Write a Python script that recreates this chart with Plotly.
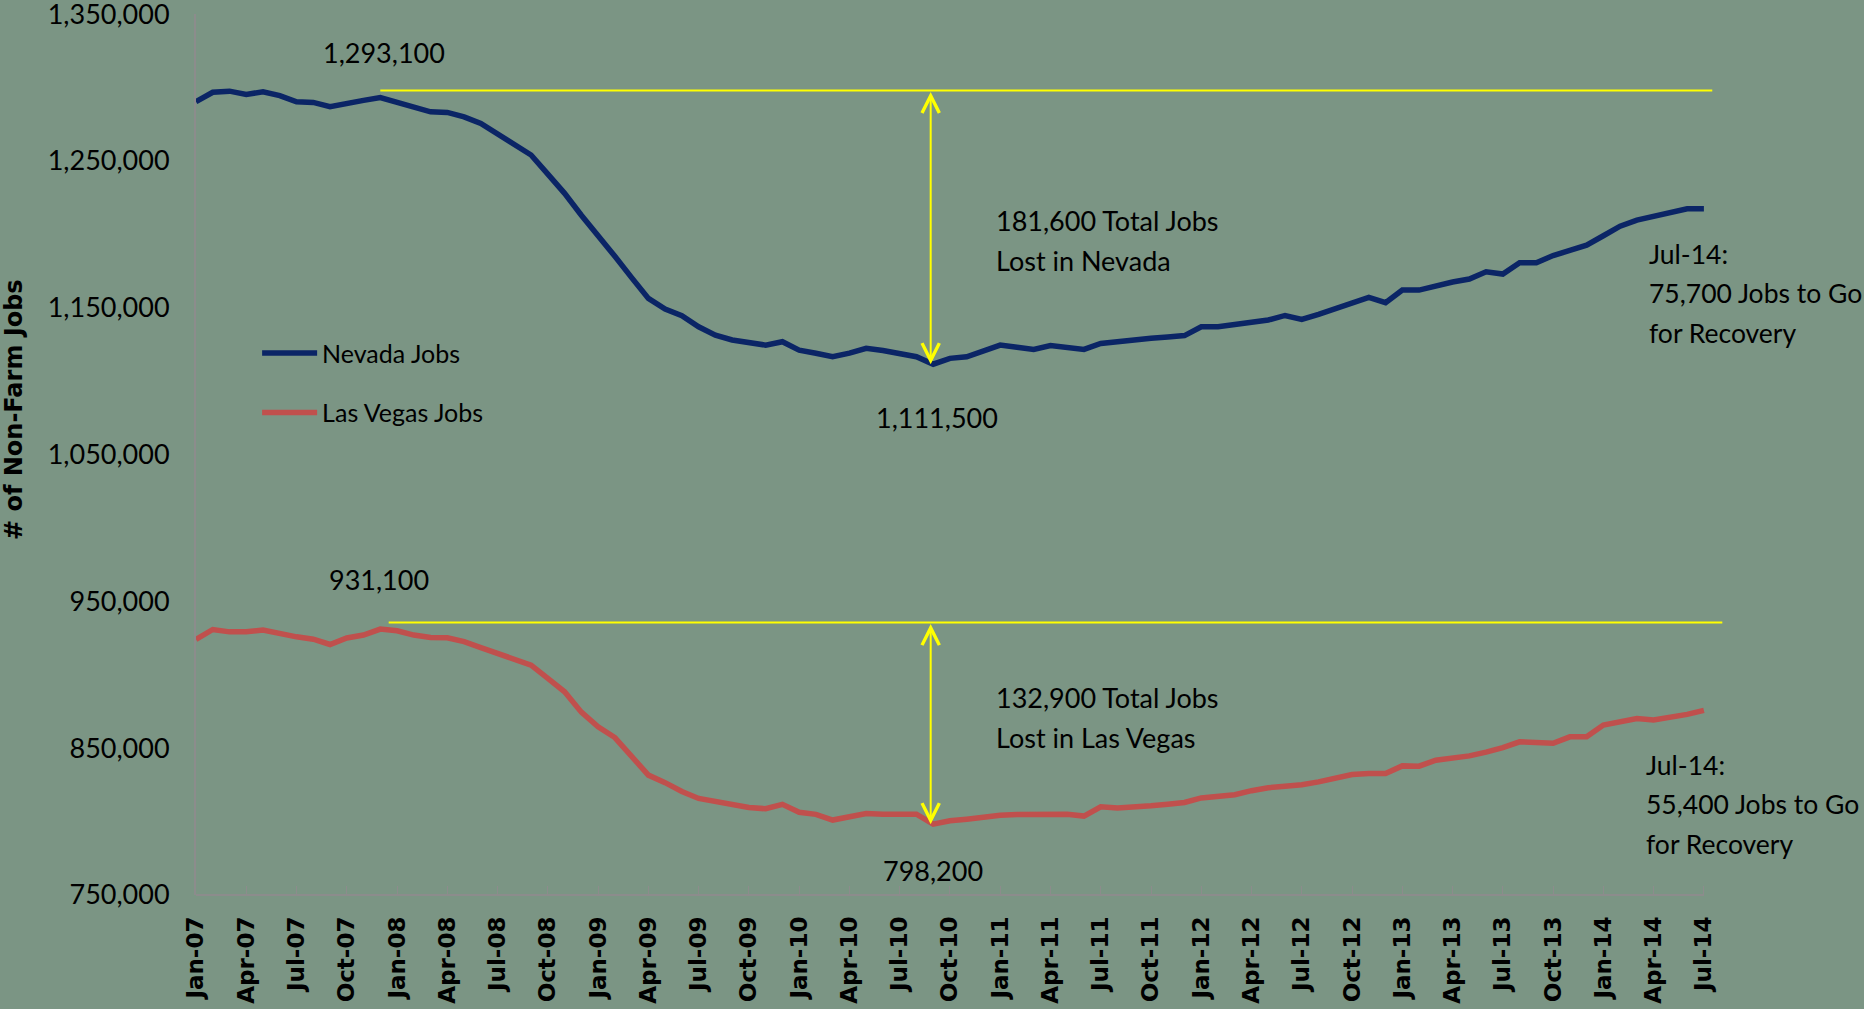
import plotly.graph_objects as go

# ---------------- data ----------------
TICK_LABELS = ["Jan-07", "Apr-07", "Jul-07", "Oct-07", "Jan-08", "Apr-08", "Jul-08", "Oct-08",
               "Jan-09", "Apr-09", "Jul-09", "Oct-09", "Jan-10", "Apr-10", "Jul-10", "Oct-10",
               "Jan-11", "Apr-11", "Jul-11", "Oct-11", "Jan-12", "Apr-12", "Jul-12", "Oct-12",
               "Jan-13", "Apr-13", "Jul-13", "Oct-13", "Jan-14", "Apr-14", "Jul-14"]

# monthly, Jan-07 .. Jul-14 (91 months)
NEVADA_JOBS = [
    1290300, 1296700, 1297500, 1295300, 1297100, 1294500, 1290300, 1289800, 1286900, 1289300,
    1291200, 1293100, 1290000, 1286600, 1283400, 1283000, 1280000, 1275500, 1268000, 1260800,
    1254000, 1241000, 1227900, 1213000, 1199500, 1185000, 1170500, 1156300, 1149000, 1144500,
    1137000, 1131300, 1128000, 1126000, 1124500, 1126800, 1121100, 1119000, 1116600, 1119000,
    1122300, 1120800, 1119000, 1116600, 1111500, 1115500, 1116600, 1120500, 1124500, 1123000,
    1121600, 1124200, 1123000, 1121600, 1125600, 1127000, 1128300, 1129200, 1130000, 1131000,
    1137000, 1137000, 1138500, 1140300, 1141600, 1144700, 1142000, 1145500, 1149500, 1153000,
    1157000, 1153400, 1162000, 1162000, 1165000, 1167500, 1169500, 1174500, 1172900, 1180600,
    1180600, 1185500, 1189000, 1192600, 1199000, 1205500, 1209700, 1212500, 1215300, 1217400,
    1217400]

LAS_VEGAS_JOBS = [
    924000, 930800, 929200, 929200, 930400, 927700, 925800, 924200, 920600, 925000,
    927000, 931100, 929900, 927000, 925400, 925100, 922500, 918500, 914500, 910500,
    906500, 897500, 888400, 874500, 864500, 857200, 845000, 831600, 826500, 820500,
    815700, 813400, 811300, 809600, 808700, 811700, 806300, 804900, 801000, 803000,
    805500, 805000, 805000, 805000, 798200, 800500, 801600, 803000, 804300, 804700,
    805000, 805000, 805000, 803700, 810000, 809300, 809800, 810700, 811800, 813000,
    816100, 817000, 818300, 821000, 823000, 824000, 825000, 827000, 829500, 832000,
    832700, 832700, 837900, 837700, 841800, 843200, 844700, 847300, 850300, 854300,
    853500, 853300, 857700, 857700, 865700, 868000, 870200, 869100, 870700, 873000,
    875700]

SERIES_NAMES = ["Nevada Jobs", "Las Vegas Jobs"]
Y_TICKS = [750000, 850000, 950000, 1050000, 1150000, 1250000, 1350000]

NV_PEAK_IDX, NV_TROUGH_IDX = 11, 44
LV_PEAK_IDX, LV_TROUGH_IDX = 11, 44

# ---------------- style ----------------
BG = "#7b9584"
NV_COLOR = "#0b2566"
LV_COLOR = "#c0504d"
YELLOW = "#ffff00"
AXIS_GRAY = "#8c8c8c"
TXT_FONT = "Lato, 'Liberation Sans', sans-serif"
BOLD_FONT = "'DejaVu Sans', Verdana, sans-serif"

months = list(range(len(NEVADA_JOBS)))
tick_idx = list(range(0, len(NEVADA_JOBS), 3))

fig = go.Figure()
fig.add_trace(go.Scatter(x=months, y=NEVADA_JOBS, mode="lines", name=SERIES_NAMES[0],
                         legendgroup="a", line=dict(color=NV_COLOR, width=5.5)))
fig.add_trace(go.Scatter(x=months, y=LAS_VEGAS_JOBS, mode="lines", name=SERIES_NAMES[1],
                         legendgroup="b", line=dict(color=LV_COLOR, width=5.5)))

nv_peak = NEVADA_JOBS[NV_PEAK_IDX]
nv_trough = NEVADA_JOBS[NV_TROUGH_IDX]
lv_peak = LAS_VEGAS_JOBS[LV_PEAK_IDX]
lv_trough = LAS_VEGAS_JOBS[LV_TROUGH_IDX]
nv_last = NEVADA_JOBS[-1]
lv_last = LAS_VEGAS_JOBS[-1]

NV_REF = nv_peak + 4900
LV_REF = lv_peak + 4400

shapes = [
    dict(type="line", xref="x", yref="y", x0=NV_PEAK_IDX, x1=90.5, y0=NV_REF, y1=NV_REF,
         line=dict(color=YELLOW, width=2)),
    dict(type="line", xref="x", yref="y", x0=LV_PEAK_IDX + 0.5, x1=91.1, y0=LV_REF, y1=LV_REF,
         line=dict(color=YELLOW, width=2)),
    # category axis baseline (ends at last month)
    dict(type="line", xref="x", yref="paper", x0=0, x1=len(months) - 1, y0=0, y1=0,
         line=dict(color=AXIS_GRAY, width=2)),
]

ann = []
# double-headed arrows
for top, bottom in [(NV_REF, nv_trough), (LV_REF, lv_trough)]:
    ann.append(dict(x=NV_TROUGH_IDX - 0.15, y=bottom, ax=NV_TROUGH_IDX - 0.15, ay=top,
                    xref="x", yref="y", axref="x", ayref="y", text="", showarrow=True,
                    arrowhead=5, startarrowhead=5, arrowside="end+start",
                    arrowsize=1.7, startarrowsize=1.7, arrowwidth=2, arrowcolor=YELLOW,
                    standoff=0, startstandoff=0))


def text_block(lines, x, y, xanchor="left", size=27, spacing=39.5):
    n = len(lines)
    for i, t in enumerate(lines):
        ann.append(dict(x=x, y=y, xref="x", yref="y", text=t, showarrow=False,
                        xanchor=xanchor, yanchor="middle",
                        yshift=((n - 1) / 2 - i) * spacing,
                        font=dict(family=TXT_FONT, size=size, color="#000000")))


text_block([f"{nv_peak:,}"], 11.2, 1324000, xanchor="center")
text_block([f"{nv_peak - nv_trough:,} Total Jobs", "Lost in Nevada"], 47.6, 1195700)
text_block([f"{nv_trough:,}"], 44.2, 1075500, xanchor="center")
text_block(["Jul-14:", f"{nv_peak - nv_last:,} Jobs to Go", "for Recovery"], 86.6, 1159900, size=26.5)
text_block([f"{lv_peak:,}"], 10.9, 965100, xanchor="center")
text_block([f"{lv_peak - lv_trough:,} Total Jobs", "Lost in Las Vegas"], 47.6, 870800)
text_block([f"{lv_trough:,}"], 44.0, 766900, xanchor="center")
text_block(["Jul-14:", f"{lv_peak - lv_last:,} Jobs to Go", "for Recovery"], 86.4, 811800, size=26.5)

# y-axis title
ann.append(dict(x=0, y=0.5505, xref="paper", yref="paper", xshift=-182, text="# of Non-Farm Jobs",
                textangle=-90, showarrow=False, xanchor="center", yanchor="middle",
                font=dict(family=BOLD_FONT, size=24, color="#000000", weight="bold")))

fig.update_layout(
    width=1864, height=1009,
    margin=dict(l=196, r=140, t=14, b=114, pad=0, autoexpand=False),
    paper_bgcolor=BG, plot_bgcolor=BG,
    showlegend=True,
    legend=dict(x=0.040, y=0.641, xanchor="left", yanchor="top", bgcolor="rgba(0,0,0,0)",
                traceorder="grouped", tracegroupgap=24, itemwidth=55,
                font=dict(family=TXT_FONT, size=25, color="#000000")),
    shapes=shapes, annotations=ann,
    xaxis=dict(range=[0, 91.2], showgrid=False, zeroline=False, showline=False,
               automargin=False,
               tickmode="array", tickvals=tick_idx, ticktext=TICK_LABELS,
               ticks="inside", ticklen=9, tickwidth=1, tickcolor=AXIS_GRAY,
               tickangle=-90, ticklabelstandoff=16, ticklabeloverflow="allow",
               tickfont=dict(family=BOLD_FONT, size=23, color="#000000", weight="bold")),
    yaxis=dict(range=[749950, 1350050], showgrid=False, zeroline=False, showline=True,
               automargin=False,
               linecolor=AXIS_GRAY, linewidth=2, ticks="",
               tickmode="array", tickvals=Y_TICKS, tickformat=",d",
               ticklabelstandoff=19, ticklabeloverflow="allow",
               tickfont=dict(family=TXT_FONT, size=27, color="#000000")),
)

fig.write_html("out.html", config={"displayModeBar": False})
with open("out.html", "r", encoding="utf-8") as f:
    html = f.read()
html = html.replace("<body>", "<body style=\"margin:0;padding:0;background:" + BG + ";\">", 1)
with open("out.html", "w", encoding="utf-8") as f:
    f.write(html)
